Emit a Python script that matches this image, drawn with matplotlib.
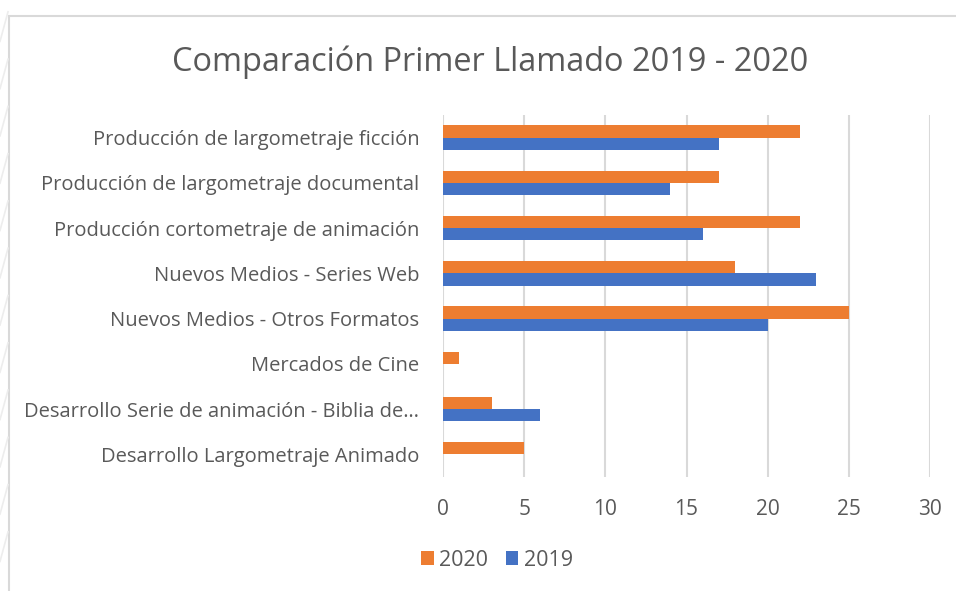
"""
Comparación Primer Llamado 2019 - 2020 (horizontal bar chart)
"""

import matplotlib.pyplot as plt
import numpy as np
from matplotlib.patches import Rectangle
from matplotlib.lines import Line2D

categories = [
    'Producción de largometraje ficción',
    'Producción de largometraje documental',
    'Producción cortometraje de animación',
    'Nuevos Medios - Series Web',
    'Nuevos Medios - Otros Formatos',
    'Mercados de Cine',
    'Desarrollo Serie de animación - Biblia de…',
    'Desarrollo Largometraje Animado',
]
values_2020 = [22, 17, 22, 18, 25, 1, 3, 5]
values_2019 = [17, 14, 16, 23, 20, 0, 6, 0]
x_ticks = [0, 5, 10, 15, 20, 25, 30]

ORANGE = '#ED7D31'
BLUE = '#4472C4'
TEXT = '#595959'
GRID = '#D9D9D9'

plt.rcParams['font.family'] = ['Open Sans', 'DejaVu Sans']

fig = plt.figure(figsize=(9.56, 5.91), dpi=100, facecolor='white')

# Chart frame (light gray border)
fig.add_artist(Rectangle((9 / 956, -0.05), 1.0, 1 - 16 / 591 + 0.05,
                         transform=fig.transFigure, fill=False,
                         edgecolor='#D9D9D9', linewidth=1.5))

# Faint decorative strokes in the left margin
for k in range(12):
    y0 = 0.05 + k * 0.08
    fig.add_artist(Line2D([0, 8 / 956], [y0, y0 + 0.05], transform=fig.transFigure,
                          color='#EDEDED', linewidth=1.2))

ax = fig.add_axes([443 / 956, 1 - 477 / 591, (930 - 443) / 956, (477 - 115) / 591])

y = np.arange(len(categories))
h = 0.27
ax.barh(y - h / 2, values_2020, height=h, color=ORANGE, label='2020', zorder=3)
ax.barh(y + h / 2, values_2019, height=h, color=BLUE, label='2019', zorder=3)

ax.set_ylim(len(categories) - 0.5, -0.5)
ax.set_xlim(0, 30)
ax.set_xticks(x_ticks)
ax.set_yticks(y)
ax.set_yticklabels(categories)

ax.tick_params(axis='y', length=0, pad=17, labelsize=14.5, labelcolor=TEXT)
ax.tick_params(axis='x', length=0, pad=16, labelsize=15, labelcolor=TEXT)

for s in ax.spines.values():
    s.set_visible(False)
ax.grid(axis='x', color=GRID, linewidth=1.5, zorder=0)
ax.set_axisbelow(True)

fig.text(490 / 956, 1 - 62 / 591, 'Comparación Primer Llamado 2019 - 2020',
         ha='center', va='center', fontsize=23.4, color=TEXT)

handles, labels = ax.get_legend_handles_labels()
fig.legend(handles, labels, loc='center', bbox_to_anchor=(497 / 956, 1 - 560 / 591),
           ncol=2, frameon=False, fontsize=15.5, labelcolor=TEXT,
           handlelength=0.6, handleheight=0.6, handletextpad=0.25, columnspacing=0.8)

plt.savefig('out.png', dpi=100, facecolor='white')
plt.close()
